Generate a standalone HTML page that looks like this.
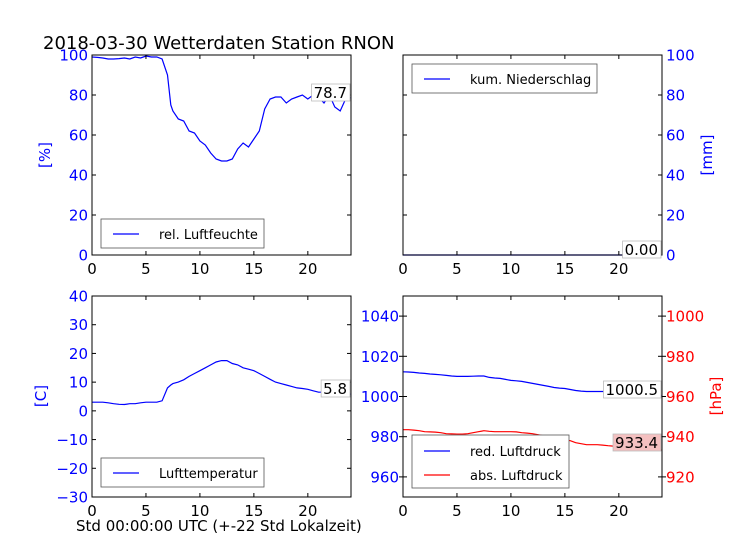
<!DOCTYPE html>
<html><head><meta charset="utf-8"><style>
body{margin:0;background:#fff;}
svg{display:block;font-family:"DejaVu Sans","Liberation Sans",sans-serif;}
</style></head><body>
<svg id="c" width="736" height="552" viewBox="0 0 736 552">
<text x="43" y="49" font-size="18" fill="#000">2018-03-30 Wetterdaten Station RNON</text>
<text x="76" y="531" font-size="15" fill="#000">Std 00:00:00 UTC (+-22 Std Lokalzeit)</text>
</svg>
<script>
const hours = [0,0.5,1,1.5,2,2.5,3,3.5,4,4.5,5,5.5,6,6.5,7,7.3,7.5,8,8.5,9,9.5,10,10.5,11,11.5,12,12.5,13,13.5,14,14.5,15,15.5,16,16.5,17,17.5,18,18.5,19,19.5,20,20.5,21,21.5,22,22.5,23,23.5,24];
const humidity = [99,98.8,98.5,98,98,98.2,98.5,98,99,98.5,99.5,99,99,98,90,75,72,68,67,62,61,57,55,51,48,47,47,48,53,56,54,58,62,73,78,79,79,76,78,79,80,78,80,79,76,80,74,72,78,78.7];
const temperature = [3,3,3,2.8,2.5,2.3,2.2,2.5,2.5,2.8,3,3,3,3.5,8,9,9.5,10,10.8,12,13,14,15,16,17,17.5,17.5,16.5,16,15,14.5,14,13,12,11,10,9.5,9,8.5,8,7.8,7.5,7,6.5,6.5,6.5,6.2,6,6,5.8];
const precipitation = hours.map(()=>0);
const pressureRed = [1012.3,1012.2,1012,1011.7,1011.5,1011.2,1011,1010.8,1010.5,1010.2,1010,1010,1010,1010.1,1010.2,1010.2,1010.2,1009.5,1009.2,1009,1008.5,1008,1007.8,1007.5,1007,1006.5,1006,1005.5,1005,1004.5,1004.2,1004,1003.5,1003,1002.7,1002.5,1002.5,1002.5,1002.5,1002.5,1002.3,1002,1002,1002,1001.8,1001.5,1001.3,1001,1000.8,1000.5];
const pressureAbs = [943.5,943.5,943.3,943,942.5,942.4,942.3,942,941.5,941.4,941.3,941.3,941.5,942,942.5,942.8,943,942.7,942.5,942.5,942.5,942.5,942.4,942,941.8,941.5,941,940.5,939.8,939,938.8,938.5,938,937,936.5,936,936,936,935.8,935.5,935.3,935,934.8,934.5,934.2,934,933.8,933.5,933.4,933.4];
const xTicks = [0,5,10,15,20];

const NS="http://www.w3.org/2000/svg";
const svg=document.getElementById('c');
function mk(tag,attrs,parent){const e=document.createElementNS(NS,tag);for(const k in attrs)e.setAttribute(k,attrs[k]);(parent||svg).appendChild(e);return e;}
function axes(x0,x1,y0,y1,ymin,ymax){
  return {x:v=>x0+(v/24)*(x1-x0), y:v=>y1-(v-ymin)/(ymax-ymin)*(y1-y0)};
}
function panel(name,x0,x1,y0,y1){
  const r=mk('rect',{x:x0,y:y0,width:x1-x0,height:y1-y0,fill:'none',stroke:'#000','stroke-width':1});
  
  
  const sx=axes(x0,x1,y0,y1,0,1);
  xTicks.forEach(t=>{
    const xx=sx.x(t);
    mk('line',{x1:xx,x2:xx,y1:y1,y2:y1-4,stroke:'#000'});
    mk('line',{x1:xx,x2:xx,y1:y0,y2:y0+4,stroke:'#000'});
    const tx=mk('text',{x:xx,y:y1+19,'font-size':15,'text-anchor':'middle',fill:'#000'});
    tx.textContent=t;
    
    
  });
}
function yTicks(name,x0,x1,ax,ticks,side,color){
  ticks.forEach(t=>{
    const yy=ax.y(t);
    mk('line',{x1:x0,x2:x0+4,y1:yy,y2:yy,stroke:'#000'});
    mk('line',{x1:x1,x2:x1-4,y1:yy,y2:yy,stroke:'#000'});
    const tx=mk('text',{x:side==='left'?x0-4:x1+4,y:yy+5.5,'font-size':15,'text-anchor':side==='left'?'end':'start',fill:color});
    tx.textContent=String(t).replace('-','\u2212');
    
    
  });
}
function line(name,ax,xs,ys,color){
  const d=xs.map((h,i)=>(i?'L':'M')+ax.x(h).toFixed(1)+','+ax.y(ys[i]).toFixed(1)).join('');
  const p=mk('path',{d:d,fill:'none',stroke:color,'stroke-width':1.2});
  
  
}
function ylabel(name,x,y,txt,color){
  const t=mk('text',{x:x,y:y,'font-size':15,fill:color,'text-anchor':'middle',transform:`rotate(-90 ${x} ${y})`});
  t.textContent=txt;
  
  
}
function legend(name,x,y,w,entries){
  const g=mk('g',{});
  
  
  mk('rect',{x:x,y:y,width:w,height:entries.length===1?29:53,fill:'#fff',stroke:'#555','stroke-width':0.8},g);
  entries.forEach((e,i)=>{
    const cy=y+(entries.length===1?15:16+i*24);
    mk('line',{x1:x+12,x2:x+38,y1:cy,y2:cy,stroke:e[1],'stroke-width':1.2},g);
    const t=mk('text',{x:x+58,y:cy+5,'font-size':13,fill:'#000'},g);
    t.textContent=e[0];
  });
}
function annot(name,xr,y,txt,bg,border){
  const t=mk('text',{x:xr-3,y:y,'font-size':15,'text-anchor':'end',fill:'#000'});
  t.textContent=txt;
  const w=t.getComputedTextLength();
  const r=mk('rect',{x:xr-w-5,y:y-14,width:w+5,height:17,fill:bg,stroke:border,'stroke-width':0.8});
  svg.insertBefore(r,t);
  
  
}

let A=axes(92,351,55,255,0,100);
line('humidity-line',A,hours,humidity,'#0000ff');
panel('humidity-panel',92,351,55,255);
yTicks('humidity',92,351,A,[0,20,40,60,80,100],'left','#0000ff');
ylabel('humidity-y-title',50,155,'[%]','#0000ff');
legend('humidity-legend',101,219,163,[['rel. Luftfeuchte','#0000ff']]);
annot('humidity-last-value',350,98,humidity[humidity.length-1].toFixed(1),'#fff','#bbb');

A=axes(403,662,55,255,0,100);
line('precipitation-line',A,hours,precipitation,'#0000ff');
panel('precipitation-panel',403,662,55,255);
yTicks('precipitation',403,662,A,[0,20,40,60,80,100],'right','#0000ff');
ylabel('precipitation-y-title',712,155,'[mm]','#0000ff');
legend('precipitation-legend',412,64,185,[['kum. Niederschlag','#0000ff']]);
annot('precipitation-last-value',661,255,precipitation[precipitation.length-1].toFixed(2),'#fff','#bbb');

A=axes(92,351,296,497,-30,40);
line('temperature-line',A,hours,temperature,'#0000ff');
panel('temperature-panel',92,351,296,497);
yTicks('temperature',92,351,A,[-30,-20,-10,0,10,20,30,40],'left','#0000ff');
ylabel('temperature-y-title',46,396,'[C]','#0000ff');
legend('temperature-legend',101,458,163,[['Lufttemperatur','#0000ff']]);
annot('temperature-last-value',350,394,temperature[temperature.length-1].toFixed(1),'#fff','#bbb');

const AL=axes(403,662,296,497,950,1050);
const AR=axes(403,662,296,497,910,1010);
line('pressure-red-line',AL,hours,pressureRed,'#0000ff');
line('pressure-abs-line',AR,hours,pressureAbs,'#ff0000');
panel('pressure-panel',403,662,296,497);
yTicks('pressure-red',403,403,AL,[960,980,1000,1020,1040],'left','#0000ff');
yTicks('pressure-abs',662,662,AR,[920,940,960,980,1000],'right','#ff0000');
ylabel('pressure-y-title',721,396,'[hPa]','#ff0000');
legend('pressure-legend',412,435,157,[['red. Luftdruck','#0000ff'],['abs. Luftdruck','#ff0000']]);
annot('pressure-red-last-value',661,395,pressureRed[pressureRed.length-1].toFixed(1),'#fff','#bbb');
annot('pressure-abs-last-value',661,448,pressureAbs[pressureAbs.length-1].toFixed(1),'#f4c0c0','#bbb');
</script>
</body></html>
